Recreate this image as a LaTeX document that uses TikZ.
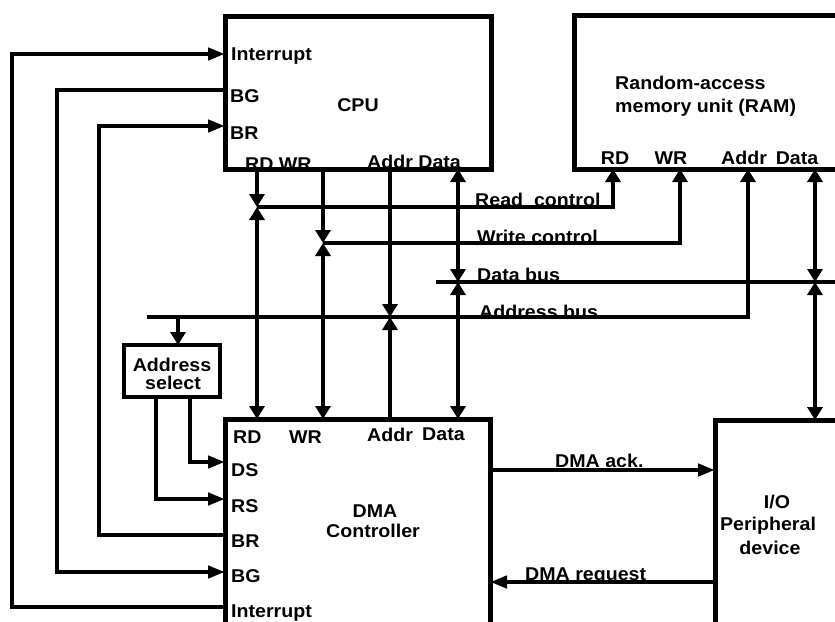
\documentclass[tikz,border=0pt]{standalone}
\usepackage{fontspec}
\setmainfont{Liberation Sans}[FakeStretch=1.06]
\usetikzlibrary{arrows.meta}
\begin{document}
\begin{tikzpicture}[x=1pt,y=-1pt,
  box/.style={draw, line width=5pt, inner sep=0pt, outer sep=0pt, anchor=north west},
  wire/.style={line width=4.6pt},
  lbl/.style={font=\fontsize{18.5}{21}\selectfont\bfseries, inner sep=0pt, anchor=base west},
  clbl/.style={font=\fontsize{18.5}{21}\selectfont\bfseries, inner sep=0pt, anchor=base},
  ha/.tip={Triangle[length=17pt,width=12pt]},
  va/.tip={Triangle[length=13pt,width=15pt]}]
\fill[white] (0,0) rectangle (835,621);
\useasboundingbox (0,0) rectangle (835,621);
\clip (0,0) rectangle (835,621);

% ---------- labels ----------
\node[lbl] (tInt1) at (231,60) {Interrupt};
\node[lbl] (tBG1) at (230,102) {BG};
\node[lbl] (tBR1) at (230,139) {BR};
\node[clbl] (tCPU) at (358,111) {CPU};
\node[lbl] (tRW1) at (245,170) {RD WR};
\node[lbl] (tAD1) at (367,168) {Addr Data};

\node[lbl] (tRam1) at (615,89) {Random-access};
\node[lbl] (tRam2) at (615,112) {memory unit (RAM)};
\node[clbl] (tRD2) at (615,164) {RD};
\node[clbl] (tWR2) at (671,164) {WR};
\node[clbl] (tAd2) at (744,164) {Addr};
\node[clbl] (tDa2) at (797,164) {Data};

\node[lbl] (tRC) at (475,206) {Read\ \ control};
\node[lbl] (tWC) at (477,243) {Write control};
\node[lbl] (tDB) at (477,281) {Data bus};
\node[lbl] (tAB) at (479,318) {Address bus};

\node[clbl] (tAS1) at (172,371) {Address};
\node[clbl] (tAS2) at (173,389) {select};

\node[lbl] (tRD3) at (233,443) {RD};
\node[lbl] (tWR3) at (289,443) {WR};
\node[lbl] (tAd3) at (367,441) {Addr};
\node[lbl] (tDa3) at (422,440) {Data};
\node[lbl] (tDS) at (231,476) {DS};
\node[lbl] (tRS) at (231,512) {RS};
\node[lbl] (tBR3) at (231,547) {BR};
\node[lbl] (tBG3) at (231,582) {BG};
\node[lbl] (tInt3) at (231,617) {Interrupt};
\node[clbl] (tDMA1) at (375,517) {DMA};
\node[clbl] (tDMA2) at (373,537) {Controller};

\node[lbl] (tAck) at (555,467) {DMA ack.};
\node[lbl] (tReq) at (525,580) {DMA request};

\node[clbl] (tIO1) at (777,508) {I/O};
\node[clbl] (tIO2) at (768,530) {Peripheral};
\node[clbl] (tIO3) at (770,554) {device};

% ---------- boxes ----------
\node[box, minimum width=266pt, minimum height=153pt] (cpu) at (225,16) {};
\node[box, minimum width=320pt, minimum height=154pt] (ram) at (574,15) {};
\node[box, minimum width=265pt, minimum height=260pt] (dma) at (225,419) {};
\node[box, minimum width=200pt, minimum height=260pt] (io) at (715,420) {};
\node[box, line width=4.5pt, minimum width=96pt, minimum height=52pt] (asel) at (124,345) {};

% ---------- pin coordinates ----------
\coordinate (cpuInt) at (225,54);
\coordinate (cpuBG) at (225,90);
\coordinate (cpuBR) at (225,126);
\coordinate (cpuRD) at (257,169);
\coordinate (cpuWR) at (323,169);
\coordinate (cpuAd) at (390,169);
\coordinate (cpuDa) at (458,169);

\coordinate (ramRD) at (613,169);
\coordinate (ramWR) at (680,169);
\coordinate (ramAd) at (748,169);
\coordinate (ramDa) at (815,169);

\coordinate (dmaRD) at (257,419);
\coordinate (dmaWR) at (323,419);
\coordinate (dmaAd) at (390,419);
\coordinate (dmaDa) at (458,419);
\coordinate (dmaDS) at (225,462);
\coordinate (dmaRS) at (225,499);
\coordinate (dmaBR) at (225,535);
\coordinate (dmaBG) at (225,572);
\coordinate (dmaInt) at (225,607);
\coordinate (dmaAck) at (490,470);
\coordinate (dmaReq) at (490,582);

\coordinate (ioDa) at (815,420);
\coordinate (ioAck) at (715,470);
\coordinate (ioReq) at (715,582);

\coordinate (selTop) at (178,345);
\coordinate (selDS) at (190,397);
\coordinate (selRS) at (156,397);

% bus junctions
\coordinate (rcStart) at (257,207);
\coordinate (rcEnd) at (613,207);
\coordinate (wcStart) at (323,243);
\coordinate (wcEnd) at (680,243);
\coordinate (dbStart) at (436,282);
\coordinate (dbEnd) at (845,282);
\coordinate (dbCPU) at (458,282);
\coordinate (dbRAM) at (815,282);
\coordinate (abStart) at (147,317);
\coordinate (abEnd) at (748,317);
\coordinate (abCPU) at (390,317);
\coordinate (abSel) at (178,317);

% corner columns
\coordinate (xInt) at (12,300);
\coordinate (xBG) at (57,300);
\coordinate (xBR) at (99,300);

% ---------- buses ----------
\draw[wire, -{va}] (rcStart) -- (rcEnd) -- (ramRD);
\draw[wire, -{va}] (wcStart) -- (wcEnd) -- (ramWR);
\draw[wire, -{va}] (abStart) -- (abEnd) -- (ramAd);
\draw[wire] (dbStart) -- (dbEnd);

% ---------- CPU side ----------
\draw[wire, -{va}] (cpuRD) -- (rcStart);
\draw[wire, -{va}] (cpuWR) -- (wcStart);
\draw[wire, -{va}] (cpuAd) -- (abCPU);
\draw[wire, {va}-{va}] (cpuDa) -- (dbCPU);

% ---------- DMA side ----------
\draw[wire, {va}-{va}] (rcStart) -- (dmaRD);
\draw[wire, {va}-{va}] (wcStart) -- (dmaWR);
\draw[wire, -{va}] (dmaAd) -- (abCPU);
\draw[wire, {va}-{va}] (dbCPU) -- (dmaDa);

% ---------- RAM / IO data ----------
\draw[wire, {va}-{va}] (ramDa) -- (dbRAM);
\draw[wire, {va}-{va}] (dbRAM) -- (ioDa);

% ---------- address select ----------
\draw[wire, -{va}] (abSel) -- (selTop);
\draw[wire, -{ha}] (selDS) |- (dmaDS);
\draw[wire, -{ha}] (selRS) |- (dmaRS);

% ---------- control lines ----------
\draw[wire, -{ha}] (dmaInt) -| (xInt) |- (cpuInt);
\draw[wire, -{ha}] (cpuBG) -| (xBG) |- (dmaBG);
\draw[wire, -{ha}] (dmaBR) -| (xBR) |- (cpuBR);

\draw[wire, -{ha}] (dmaAck) -- (ioAck);
\draw[wire, -{ha}] (ioReq) -- (dmaReq);
\end{tikzpicture}
\end{document}
